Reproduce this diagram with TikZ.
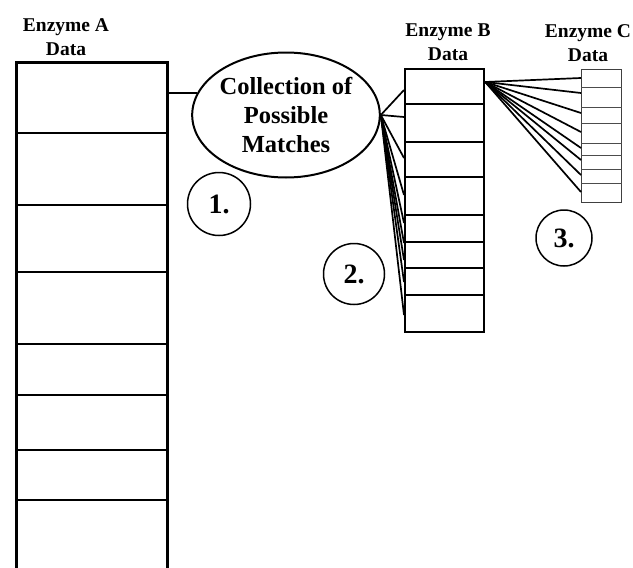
\documentclass[tikz,border=0pt]{standalone}
\usepackage{fontspec}
\setmainfont{Liberation Serif}
\usetikzlibrary{shapes.geometric}

\begin{document}
\begin{tikzpicture}[x=1pt,y=-1pt,
  tbl/.style={draw,inner sep=0pt,anchor=north west},
  lbl/.style={align=center,anchor=north,inner sep=0pt,font=\fontsize{19.5}{24}\selectfont\bfseries},
  num/.style={draw,circle,line width=1.5pt,inner sep=0pt,font=\fontsize{28}{28}\selectfont\bfseries},
  fan/.style={line width=1.7pt},
  row/.style={line width=1.8pt}]
  \useasboundingbox (0,0) rectangle (633,568);
  \clip (0,0) rectangle (633,568);
  \node[tbl,line width=3pt,minimum width=151,minimum height=520](A) at (15,61){};
  \node[tbl,line width=2.2pt,minimum width=79,minimum height=263](B) at (404,68){};
  \node[tbl,line width=1pt,draw=black!75,minimum width=40,minimum height=133](C) at (581,69){};
  \node[lbl](la) at (66,18){Enzyme A\\Data};
  \node[lbl](lb) at (448,24){Enzyme B\\Data};
  \node[lbl](lc) at (588,24){Enzyme C\\Data};
  \node[draw,ellipse,line width=2pt,minimum width=168,minimum height=125,inner sep=0pt,align=center,
    font=\fontsize{24.5}{29}\selectfont\bfseries](E) at (286,115){Collection of\\Possible\\Matches};
  \node[num,minimum size=63](n1) at (219,204){1.};
  \node[num,minimum size=61](n2) at (354,274){2.};
  \node[num,minimum size=56](n3) at (564,238){3.};
  \foreach \y in {133,205,272,344,395,450,500} \draw[row](A.west |- 0,\y)--(A.east |- 0,\y);
  \foreach \y in {104,142,177,215,242,268,295} \draw[line width=1.1pt](B.west |- 0,\y)--(B.east |- 0,\y);
  \foreach \y in {87,107,123,143,155,169,183} \draw[line width=0.8pt,black!70](C.west |- 0,\y)--(C.east |- 0,\y);
  \draw[row](A.east |- E.166)--(E.166);
  \foreach \y in {90,117,158,195,223,243,260,282,315} \draw[fan](E.east)--(B.west |- 0,\y);
  \coordinate (bo) at (B.east |- 0,82);
  \foreach \y in {78,93,113,132,148,160,175,192} \draw[fan](bo)--(C.west |- 0,\y);
\end{tikzpicture}
\end{document}
